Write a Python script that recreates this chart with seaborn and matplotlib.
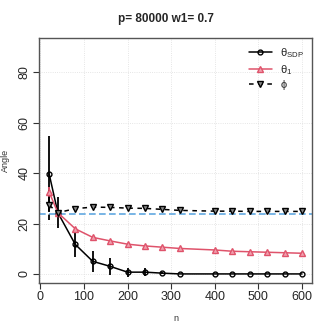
import numpy as np
import pandas as pd
import seaborn as sns
import matplotlib.pyplot as plt

# data
n_vals = [20, 40, 80, 120, 160, 200, 240, 280, 320, 400, 440, 480, 520, 560, 600]
theta_sdp = [39.7, 24.3, 11.7, 5.0, 3.0, 0.7, 0.7, 0.3, 0.0, 0.0, 0.0, 0.0, 0.0, 0.0, 0.0]
theta_sdp_err = [15.0, 6.1, 5.0, 4.2, 3.3, 1.8, 1.7, 0.5, 0.0, 0.0, 0.0, 0.0, 0.0, 0.0, 0.0]
theta_1 = [32.5, 24.3, 17.9, 14.5, 13.1, 11.8, 11.1, 10.6, 10.1, 9.5, 9.0, 8.8, 8.6, 8.4, 8.2]
theta_1_err = [2.0, 1.0, 0.6, 0.4, 0.3, 0.3, 0.2, 0.2, 0.2, 0.2, 0.2, 0.2, 0.2, 0.2, 0.2]
phi = [27.3, 24.3, 25.9, 26.5, 26.4, 26.1, 26.0, 25.6, 25.2, 24.9, 24.9, 24.8, 24.8, 24.8, 24.8]
phi_err = [6.0, 0.5, 0.3, 0.2, 0.2, 0.2, 0.2, 0.2, 0.2, 0.2, 0.2, 0.2, 0.2, 0.2, 0.2]
ref_angle = 23.6

df = pd.DataFrame({
    "n": n_vals,
    "sdp": theta_sdp, "sdp_err": theta_sdp_err,
    "t1": theta_1, "t1_err": theta_1_err,
    "phi": phi, "phi_err": phi_err,
})

PINK = "#DF536B"
BLUE = "#61A8E0"

sns.set_style("white")
plt.rcParams["font.family"] = ["Liberation Sans", "DejaVu Sans"]
plt.rcParams["mathtext.default"] = "regular"

fig = plt.figure(figsize=(3.32, 3.32), dpi=100)
ax = fig.add_axes([0.1175, 0.1476, 0.8225, 0.738])

# grid like R's dotted grid
for gx in range(0, 700, 100):
    ax.axvline(gx, color="#dddddd", lw=0.6, ls=":", zorder=0)
for gy in range(0, 100, 20):
    ax.axhline(gy, color="#dddddd", lw=0.6, ls=":", zorder=0)

ax.axhline(ref_angle, color=BLUE, lw=1.2, ls=(0, (4, 2)), zorder=1)

# error bars
ax.vlines(df["n"], df["sdp"] - df["sdp_err"], df["sdp"] + df["sdp_err"], color="black", lw=1.3, zorder=2)
ax.vlines(df["n"], df["t1"] - df["t1_err"], df["t1"] + df["t1_err"], color=PINK, lw=1.3, zorder=2)
ax.vlines(df["n"], df["phi"] - df["phi_err"], df["phi"] + df["phi_err"], color="black", lw=1.3,
          linestyles=(0, (3, 2)), zorder=2)

sns.lineplot(data=df, x="n", y="sdp", ax=ax, color="black", lw=1.1, marker="o", markersize=3.5,
             markerfacecolor="none", markeredgecolor="black", markeredgewidth=1.0, label=r"θ$_{SDP}$", zorder=3)
sns.lineplot(data=df, x="n", y="t1", ax=ax, color=PINK, lw=1.1, marker="^", markersize=4.5,
             markerfacecolor="#f0a0ae", markeredgecolor=PINK, markeredgewidth=1.0, label=r"θ$_1$", zorder=3)
sns.lineplot(data=df, x="n", y="phi", ax=ax, color="black", lw=1.1, marker="v", markersize=4.5,
             markerfacecolor="#888888", markeredgecolor="black", markeredgewidth=1.0, label="ϕ", zorder=3)
ax.lines[-1].set_linestyle((0, (3, 3)))

ax.set_xlim(-3.2, 623.2)
ax.set_ylim(-3.6, 93.6)
ax.set_xticks(range(0, 700, 100))
ax.set_yticks(range(0, 100, 20))
ax.tick_params(axis="both", direction="out", length=4, width=0.8, color="#333333", labelsize=9, pad=2,
               bottom=True, left=True)
for lab in ax.get_yticklabels():
    lab.set_rotation(90)
    lab.set_va("center")
for s in ax.spines.values():
    s.set_color("#555555")
    s.set_linewidth(1.0)

ax.set_xlabel("n", fontsize=6.5, color="#333333", labelpad=8)
ax.set_ylabel("Angle", fontsize=6.5, color="#333333", labelpad=6)
fig.suptitle("p= 80000 w1= 0.7", fontsize=8.5, fontweight="bold", y=0.96)

leg = ax.legend(loc="upper right", frameon=False, fontsize=8, handlelength=2.0,
                borderaxespad=0.3, labelspacing=0.3, handletextpad=0.8)

fig.savefig("out.png", dpi=100)
